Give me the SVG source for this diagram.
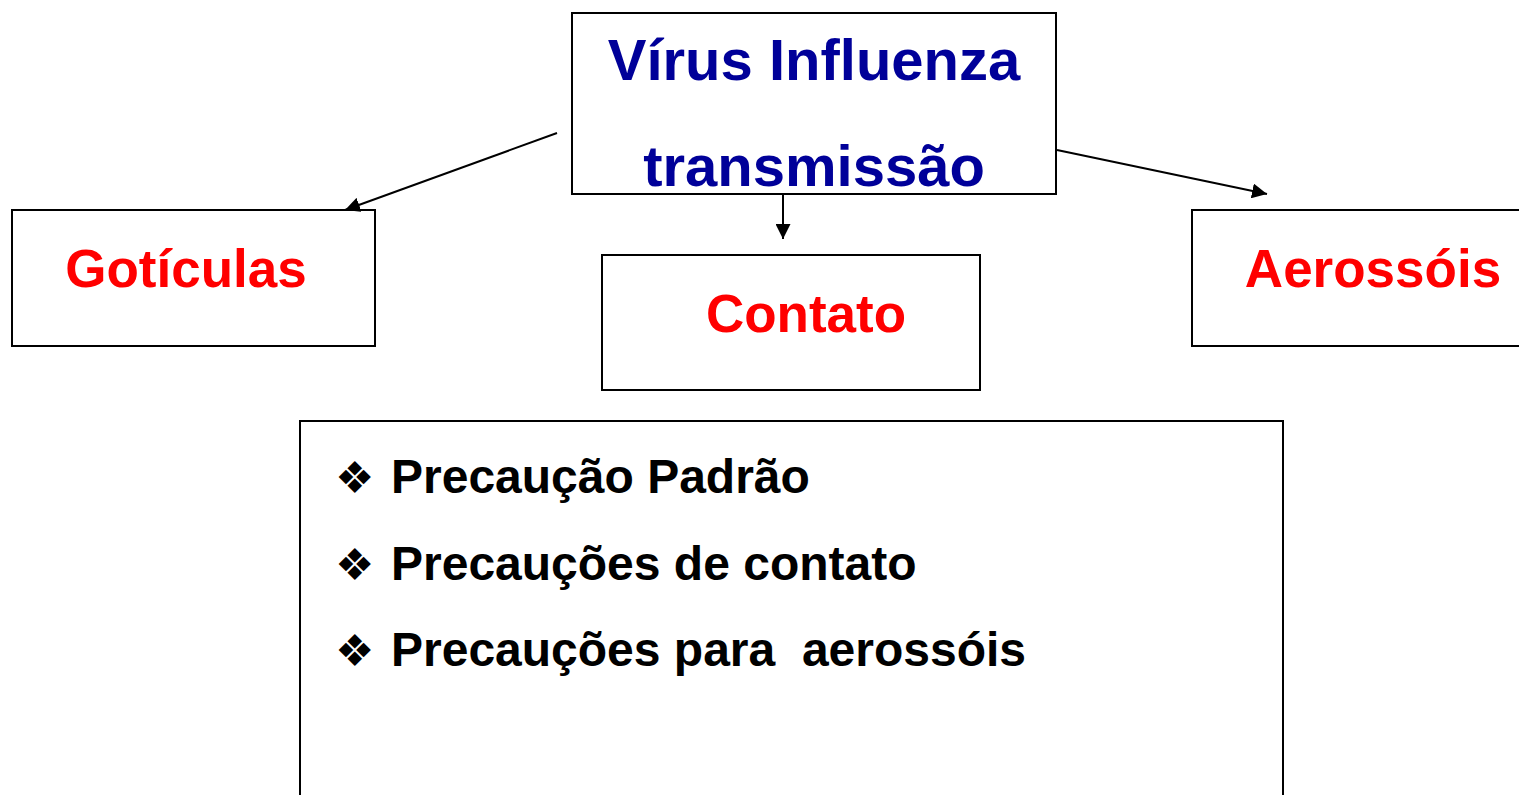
<svg xmlns="http://www.w3.org/2000/svg" width="1519" height="795" viewBox="0 0 1519 795">
<defs>
<marker id="ah" viewBox="0 0 10 10" refX="10" refY="5" markerWidth="15" markerHeight="15" markerUnits="userSpaceOnUse" orient="auto">
<path d="M0,0 L10,5 L0,10 z" fill="#000"/>
</marker>
<style>
.box{fill:#fff;stroke:#000;stroke-width:2}
.t{font-family:"Liberation Sans",Arial,sans-serif;font-weight:bold}
.blue{fill:#000099;font-size:58px}
.red{fill:#ff0000;font-size:53px}
.blk{fill:#000;font-size:48px}
.bul{font-family:"DejaVu Sans",sans-serif;font-size:44px;fill:#000}
.c{stroke:#000;stroke-width:2;fill:none;marker-end:url(#ah)}
</style>
</defs>
<rect width="1519" height="795" fill="#fff"/>
<g id="n-virus">
<rect class="box" x="572" y="13" width="484" height="181"/>
<text class="t blue" x="814" y="80" text-anchor="middle">Vírus Influenza</text>
<text class="t blue" x="814" y="186" text-anchor="middle">transmissão</text>
</g>
<g id="n-goticulas">
<rect class="box" x="12" y="210" width="363" height="136"/>
<text class="t red" x="186" y="287" text-anchor="middle">Gotículas</text>
</g>
<g id="n-contato">
<rect class="box" x="602" y="255" width="378" height="135"/>
<text class="t red" x="806" y="332" text-anchor="middle">Contato</text>
</g>
<g id="n-aerossois">
<rect class="box" x="1192" y="210" width="340" height="136"/>
<text class="t red" x="1373" y="287" text-anchor="middle">Aerossóis</text>
</g>
<g id="n-precaucoes">
<rect class="box" x="300" y="421" width="983" height="390"/>
<text class="bul" x="335" y="493">❖</text>
<text class="t blk" x="391" y="493">Precaução Padrão</text>
<text class="bul" x="335" y="580">❖</text>
<text class="t blk" x="391" y="580">Precauções de contato</text>
<text class="bul" x="335" y="666">❖</text>
<text class="t blk" x="391" y="666" xml:space="preserve">Precauções para  aerossóis</text>
</g>
<g id="connectors">
<line class="c" x1="557" y1="133" x2="345" y2="210"/>
<line class="c" x1="783" y1="195" x2="783" y2="239"/>
<line class="c" x1="1057" y1="150" x2="1267" y2="194"/>
</g>
</svg>
